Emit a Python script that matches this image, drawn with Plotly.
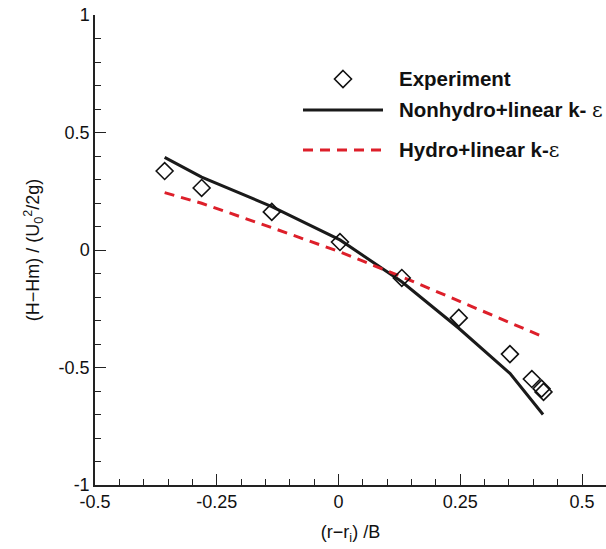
import plotly.graph_objects as go

# Data
exp_x = [-0.357, -0.281, -0.137, 0.003, 0.130, 0.247, 0.352, 0.397, 0.417, 0.421]
exp_y = [0.336, 0.264, 0.162, 0.034, -0.119, -0.289, -0.443, -0.549, -0.590, -0.604]

nh_x = [-0.357, -0.281, -0.137, 0.003, 0.130, 0.247, 0.352, 0.420]
nh_y = [0.394, 0.310, 0.185, 0.043, -0.135, -0.333, -0.525, -0.700]

hy_x = [-0.357, -0.281, -0.137, 0.003, 0.130, 0.247, 0.352, 0.420]
hy_y = [0.244, 0.199, 0.095, -0.008, -0.114, -0.216, -0.309, -0.369]

x_ticks = [-0.5, -0.25, 0, 0.25, 0.5]
x_ticktext = ["-0.5", "-0.25", "0", "0.25", "0.5"]
y_ticks = [-1, -0.5, 0, 0.5, 1]
y_ticktext = ["-1", "-0.5", "0", "0.5", "1"]

RED = "#dd1f2a"
FONT = "Liberation Sans, Arial, sans-serif"

fig = go.Figure()
fig.add_trace(go.Scatter(x=nh_x, y=nh_y, mode="lines",
                         line=dict(color="#1a1a1a", width=3), showlegend=False))
fig.add_trace(go.Scatter(x=hy_x, y=hy_y, mode="lines",
                         line=dict(color=RED, width=3, dash="10px,7px"), showlegend=False))
fig.add_trace(go.Scatter(x=exp_x, y=exp_y, mode="markers",
                         marker=dict(symbol="diamond-open", size=13, color="#111",
                                     line=dict(width=1.6, color="#111")),
                         showlegend=False))

W, H = 606, 549
L, R, T, B = 95, 0, 15, 64
pw, ph = W - L - R, H - T - B

def px2paper(x, y):
    return (x - L) / pw, (H - B - y) / ph

# Manual legend
dx, dy = 343, 79
pts = [(dx, dy - 8.5), (dx + 8.5, dy), (dx, dy + 8.5), (dx - 8.5, dy)]
pp = [px2paper(a, b) for a, b in pts]
path = "M {} {} L {} {} L {} {} L {} {} Z".format(*[v for p in pp for v in p])
shapes = [dict(type="path", xref="paper", yref="paper", path=path,
               line=dict(color="#111", width=1.6))]
x0, y1 = px2paper(303, 110)
x1, _ = px2paper(383, 110)
shapes.append(dict(type="line", xref="paper", yref="paper", x0=x0, x1=x1, y0=y1, y1=y1,
                   line=dict(color="#1a1a1a", width=3)))
_, y2 = px2paper(303, 150)
shapes.append(dict(type="line", xref="paper", yref="paper", x0=x0, x1=x1, y0=y2, y1=y2,
                   line=dict(color=RED, width=3, dash="10px,7px")))

annotations = []
for txt, yy in [("Experiment", 79),
                ("Nonhydro+linear k- <span style='font-family:DejaVu Serif;font-weight:normal'>ε</span>", 110),
                ("Hydro+linear k-<span style='font-family:DejaVu Serif;font-weight:normal'>ε</span>", 150)]:
    ax, ay = px2paper(397, yy)
    annotations.append(dict(text="<b>" + txt + "</b>", xref="paper", yref="paper", x=ax, y=ay,
                            xanchor="left", yanchor="middle", showarrow=False,
                            font=dict(family=FONT, size=20.5, color="#111")))

fig.update_layout(
    width=W, height=H,
    margin=dict(l=L, r=R, t=T, b=B),
    paper_bgcolor="white", plot_bgcolor="white",
    font=dict(family=FONT, size=18, color="#111"),
    shapes=shapes, annotations=annotations,
    xaxis=dict(range=[-0.5, -0.5 + pw / 487.0], tickvals=x_ticks, ticktext=x_ticktext,
               showgrid=False, zeroline=False, showline=True, linecolor="#222", linewidth=1.5,
               ticks="inside", ticklen=11, tickwidth=1.2, tickcolor="#222",
               minor=dict(dtick=0.05, tick0=0, ticks="inside", ticklen=6, tickwidth=1.2, tickcolor="#222"),
               title=dict(text="(r−r<sub>i</sub>) /B", font=dict(size=18), standoff=14),
               tickfont=dict(size=18)),
    yaxis=dict(range=[-1, 1], tickvals=y_ticks, ticktext=y_ticktext,
               showgrid=False, zeroline=False, showline=True, linecolor="#222", linewidth=1.5,
               ticks="inside", ticklen=11, tickwidth=1.2, tickcolor="#222",
               minor=dict(dtick=0.1, tick0=0, ticks="inside", ticklen=6, tickwidth=1.2, tickcolor="#222"),
               title=dict(text="(H−Hm) / (U<sub>0</sub><sup>2</sup>/2g)", font=dict(size=18), standoff=14),
               tickfont=dict(size=18)),
)

fig.write_html("out.html")
